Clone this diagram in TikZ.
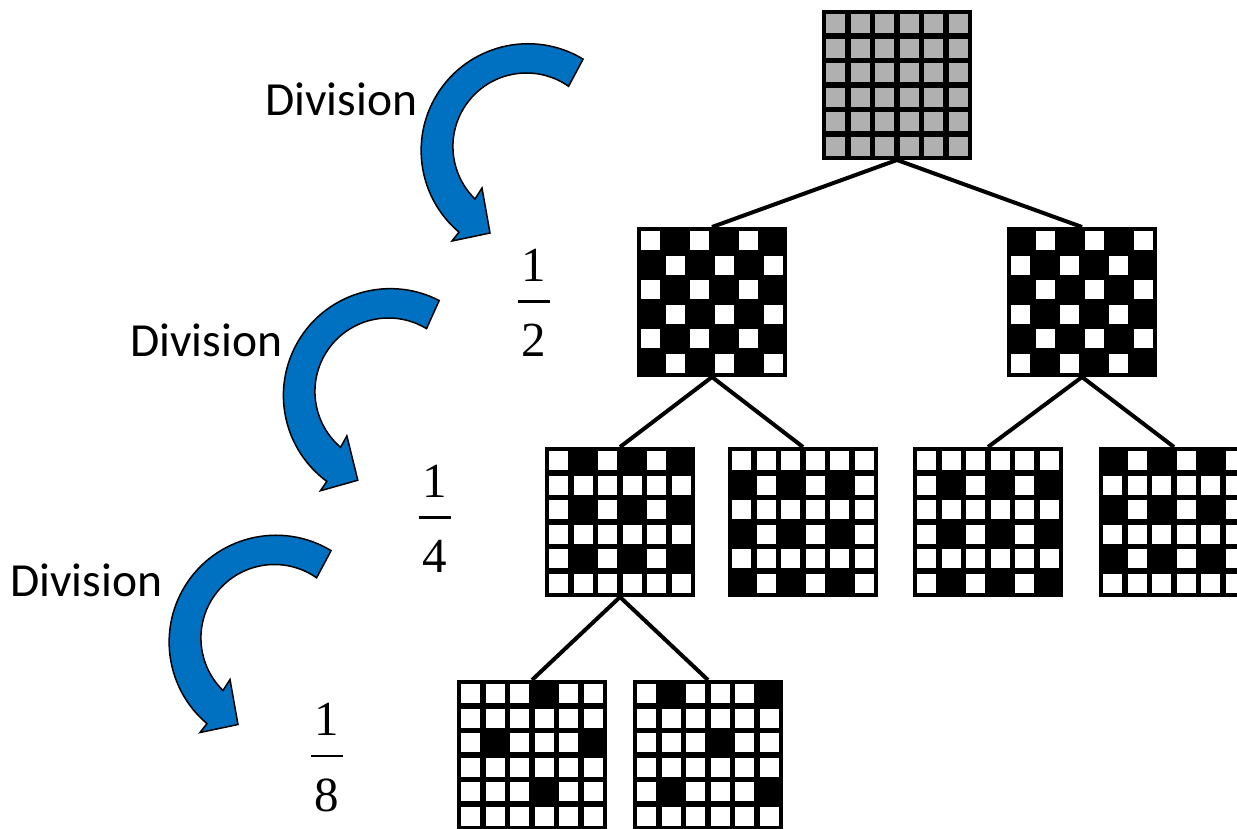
\documentclass[tikz,border=0pt]{standalone}
\usepackage{fontspec}
\setmainfont{Liberation Serif}
\newfontfamily\divfont{Carlito}
\definecolor{arrowblue}{RGB}{0,112,192}
\definecolor{cellgray}{RGB}{176,176,176}
\newcommand\myfrac[2]{\vbox{\offinterlineskip\halign{\hfil##\hfil\cr #1\cr\noalign{\kern18.75pt}\rule{32pt}{2.8pt}\cr\noalign{\kern21pt}#2\cr}}}
\newcommand\drawcells[3]{%
  \foreach \rowlist [count=\rr] in {#3} {
    \foreach \vv [count=\kk] in \rowlist {
      \ifnum\vv=0
        \fill[#2] ([shift={({4.25+24.5*(\kk-1)},{4.25+24.5*(\rr-1)})}]#1.north west) rectangle ++(18.75,18.75);
      \fi
    }
  }%
}
\begin{document}
\begin{tikzpicture}[x=1pt,y=-1pt,
  gridbox/.style={rectangle, minimum size=150pt, inner sep=0pt, outer sep=0pt, fill=black, draw=none, anchor=north west},
  link/.style={line width=4pt, black},
  divlabel/.style={font=\divfont\fontsize{47.5}{56}\selectfont, anchor=base west, inner sep=0pt},
  fraclabel/.style={font=\fontsize{49}{58}\selectfont, anchor=base, inner sep=0pt},
  divarrow/.pic={\path[fill=arrowblue, draw=black, line width=1.5pt, line join=miter]
     (56.6,-87.3) arc[start angle=-58.9, end angle=-229.8, radius=106.8]
     -- (-74.5,94.6) -- (-36.5,86.6) -- (-44.5,41.6) -- (-51.5,52.6)
     arc[start angle=-225.6, end angle=-55, radius=73.5] -- cycle;}
]
\useasboundingbox (0,0) rectangle (1237,828);
\clip (0,0) rectangle (1237,828);
\fill[white] (0,0) rectangle (1237,828);

% grid nodes
\node[gridbox] (g0) at (822,10) {};
\node[gridbox] (g1a) at (637,227) {};
\node[gridbox] (g1b) at (1007,227) {};
\node[gridbox] (g2a) at (545,447) {};
\node[gridbox] (g2b) at (728,447) {};
\node[gridbox] (g2c) at (913,447) {};
\node[gridbox] (g2d) at (1099,447) {};
\node[gridbox] (g3a) at (457,680) {};
\node[gridbox] (g3b) at (633,680) {};

% connectors
\draw[link] (g0.south) -- (g1a.north);
\draw[link] (g0.south) -- (g1b.north);
\draw[link] (g1a.south) -- (g2a.north);
\draw[link] (g1a.south) -- (g2b.north);
\draw[link] (g1b.south) -- (g2c.north);
\draw[link] (g1b.south) -- (g2d.north);
\draw[link] (g2a.south) -- (g3a.north);
\draw[link] (g2a.south) -- (g3b.north);

% cells
\drawcells{g0}{cellgray}{{0,0,0,0,0,0},{0,0,0,0,0,0},{0,0,0,0,0,0},{0,0,0,0,0,0},{0,0,0,0,0,0},{0,0,0,0,0,0}}
\drawcells{g1a}{white}{{0,1,0,1,0,1},{1,0,1,0,1,0},{0,1,0,1,0,1},{1,0,1,0,1,0},{0,1,0,1,0,1},{1,0,1,0,1,0}}
\drawcells{g1b}{white}{{1,0,1,0,1,0},{0,1,0,1,0,1},{1,0,1,0,1,0},{0,1,0,1,0,1},{1,0,1,0,1,0},{0,1,0,1,0,1}}
\drawcells{g2a}{white}{{0,1,0,1,0,1},{0,0,0,0,0,0},{0,1,0,1,0,1},{0,0,0,0,0,0},{0,1,0,1,0,1},{0,0,0,0,0,0}}
\drawcells{g2b}{white}{{0,0,0,0,0,0},{1,0,1,0,1,0},{0,0,0,0,0,0},{1,0,1,0,1,0},{0,0,0,0,0,0},{1,0,1,0,1,0}}
\drawcells{g2c}{white}{{0,0,0,0,0,0},{0,1,0,1,0,1},{0,0,0,0,0,0},{0,1,0,1,0,1},{0,0,0,0,0,0},{0,1,0,1,0,1}}
\drawcells{g2d}{white}{{1,0,1,0,1,0},{0,0,0,0,0,0},{1,0,1,0,1,0},{0,0,0,0,0,0},{1,0,1,0,1,0},{0,0,0,0,0,0}}
\drawcells{g3a}{white}{{0,0,0,1,0,0},{0,0,0,0,0,0},{0,1,0,0,0,1},{0,0,0,0,0,0},{0,0,0,1,0,0},{0,0,0,0,0,0}}
\drawcells{g3b}{white}{{0,1,0,0,0,1},{0,0,0,0,0,0},{0,0,0,1,0,0},{0,0,0,0,0,0},{0,1,0,0,0,1},{0,0,0,0,0,0}}

% arrows
\pic (a1) at (526.5,146.4) {divarrow};
\pic[rotate=3.8] (a2) at (388.5,391.4) {divarrow};
\pic (a3) at (274.5,637.9) {divarrow};

% labels
\node[divlabel] (d1) at (265,115) {Division};
\node[divlabel] (d2) at (130,356) {Division};
\node[divlabel] (d3) at (10,596) {Division};

\node[fraclabel] (f1) at (534,356) {\myfrac{1}{2}};
\node[fraclabel] (f2) at (435,572) {\myfrac{1}{4}};
\node[fraclabel] (f3) at (327,811) {\myfrac{1}{8}};
\end{tikzpicture}
\end{document}
